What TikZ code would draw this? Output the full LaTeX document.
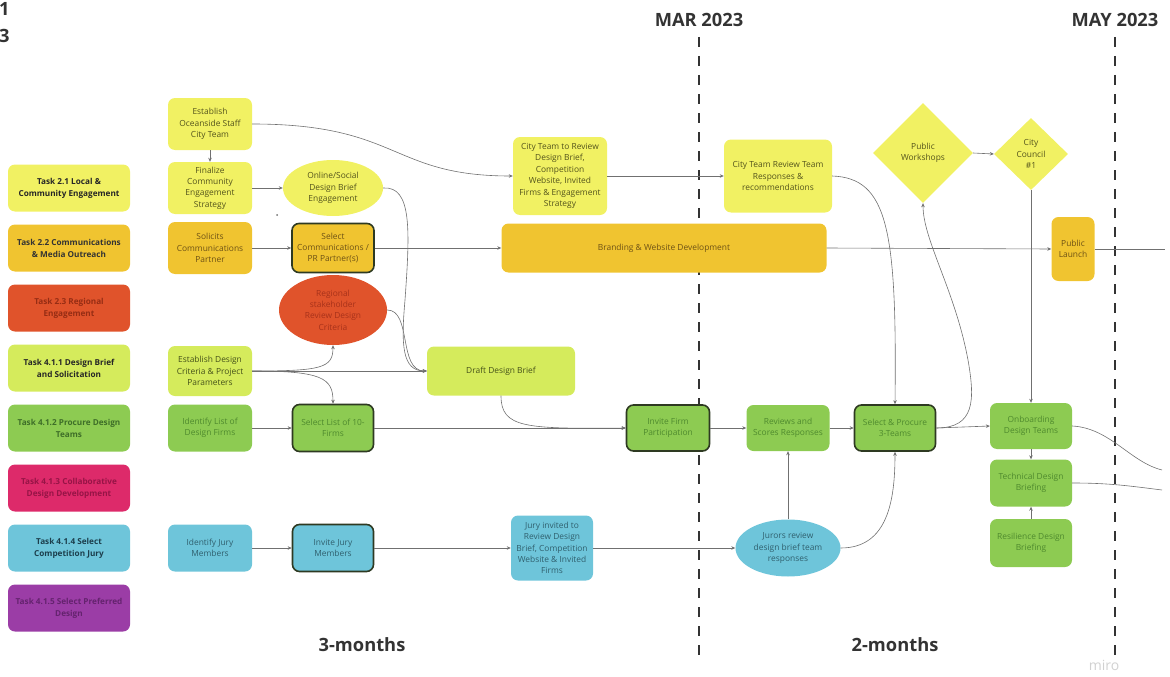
\documentclass[tikz,border=0pt]{standalone}
\usepackage{fontspec}
\setmainfont{Open Sans}
\usetikzlibrary{arrows.meta,shapes.geometric}
\definecolor{cYel}{HTML}{F1F163}
\definecolor{cOra}{HTML}{F0C430}
\definecolor{cRed}{HTML}{E0532B}
\definecolor{cLime}{HTML}{D5EB5C}
\definecolor{cGrn}{HTML}{8DCB52}
\definecolor{cMag}{HTML}{DD2A6A}
\definecolor{cBlu}{HTML}{6EC5DA}
\definecolor{cPur}{HTML}{9B3DA6}
\definecolor{tYel}{HTML}{54541C}
\definecolor{tOra}{HTML}{6E5215}
\definecolor{tRed}{HTML}{A8321A}
\definecolor{tLime}{HTML}{46521A}
\definecolor{tGrn}{HTML}{4F8A2E}
\definecolor{tBlu}{HTML}{30606E}
\definecolor{cLine}{HTML}{707070}
\definecolor{cDark}{HTML}{2E3A22}
\definecolor{cTime}{HTML}{333333}
\begin{document}
\begin{tikzpicture}[x=1pt,y=-1pt,
  box/.style={rounded corners=7pt, align=center, inner sep=1pt,
    font=\fontsize{8.4}{11.4}\selectfont},
  yel/.style={box, fill=cYel, text=tYel},
  ora/.style={box, fill=cOra, text=tOra},
  lime/.style={box, fill=cLime, text=tLime},
  grn/.style={box, fill=cGrn, text=tGrn},
  blu/.style={box, fill=cBlu, text=tBlu},
  selbox/.style={draw=cDark, line width=1.6pt},
  oval/.style={ellipse, align=center, inner sep=0pt, font=\fontsize{8.4}{11.4}\selectfont},
  dia/.style={diamond, align=center, inner sep=0pt, font=\fontsize{8.4}{11.4}\selectfont},
  task/.style={rounded corners=7pt, align=center, inner sep=1pt,
    minimum width=122, minimum height=47, font=\bfseries\fontsize{8.2}{12}\selectfont},
  conn/.style={draw=cLine, line width=0.6pt, -{Stealth[length=4pt,width=3.5pt]}},
  plain/.style={draw=cLine, line width=0.6pt},
  timeline/.style={draw=cTime, line width=2.2pt, dash pattern=on 10pt off 9pt},
  head/.style={font=\bfseries\fontsize{18.3}{20}\selectfont, text=cTime}
]
\useasboundingbox (0,0) rectangle (1170,677);

% timeline
\node[head, anchor=base west, inner sep=0pt] (c1) at (-1,16) {1};
\node[head, anchor=base west, inner sep=0pt] (c3) at (-1,43) {3};
\node[head] (mar) at (699,20) {MAR 2023};
\node[head] (may) at (1115,20) {MAY 2023};
\coordinate (marb) at (699,662);
\coordinate (mayb) at (1115,662);
\draw[timeline] (699,37) -- (marb);
\draw[timeline] (1115,37) -- (mayb);
\node[head] (m3) at (362,645) {3-months};
\node[head] (m2) at (895,645) {2-months};
\node[font=\fontsize{14}{16}\selectfont, text=black!18] (miro) at (1104,665) {miro};

% task labels
\node[task, fill=cYel, text=black!85] (T21) at (69,188) {Task 2.1 Local \&\\Community Engagement};
\node[task, fill=cOra, text=black!80] (T22) at (69,248) {Task 2.2 Communications\\\& Media Outreach};
\node[task, fill=cRed, text={rgb,255:red,150;green,45;blue,20}] (T23) at (69,308) {Task 2.3 Regional\\Engagement};
\node[task, fill=cLime, text=black!85] (T411) at (69,368) {Task 4.1.1 Design Brief\\and Solicitation};
\node[task, fill=cGrn, text={rgb,255:red,62;green,110;blue,40}] (T412) at (69,428) {Task 4.1.2 Procure Design\\Teams};
\node[task, fill=cMag, text={rgb,255:red,150;green,20;blue,70}] (T413) at (69,488) {Task 4.1.3 Collaborative\\Design Development};
\node[task, fill=cBlu, text={rgb,255:red,28;green,62;blue,76}] (T414) at (69,548) {Task 4.1.4 Select\\Competition Jury};
\node[task, fill=cPur, text={rgb,255:red,100;green,35;blue,110}] (T415) at (69,608) {Task 4.1.5 Select Preferred\\Design};

% column 1
\node[yel, minimum width=84, minimum height=52] (EO) at (210,124) {Establish\\Oceanside Staff\\City Team};
\node[yel, minimum width=84, minimum height=52] (FC) at (210,188) {Finalize\\Community\\Engagement\\Strategy};
\node[ora, minimum width=84, minimum height=52] (SO) at (210,248) {Solicits\\Communications\\Partner};
\node[lime, minimum width=84, minimum height=50] (EDC) at (210,371) {Establish Design\\Criteria \& Project\\Parameters};
\node[grn, minimum width=84, minimum height=47] (IL) at (210,428) {Identify List of\\Design Firms};
\node[blu, minimum width=84, minimum height=47] (IJ) at (210,548) {Identify Jury\\Members};
\fill[cLine] (277,215) circle (1);

% column 2
\node[oval, fill=cYel, text=tYel, minimum width=100, minimum height=56] (OS) at (333,188) {Online/Social\\Design Brief\\Engagement};
\node[ora, selbox, minimum width=82, minimum height=49] (SC) at (333,248) {Select\\Communications /\\PR Partner(s)};
\node[oval, fill=cRed, text=tRed, minimum width=108, minimum height=70] (RS) at (333,310) {Regional\\stakeholder\\Review Design\\Criteria};
\node[grn, selbox, minimum width=81, minimum height=47] (SL) at (333,428) {Select List of 10-\\Firms};
\node[blu, selbox, minimum width=81, minimum height=47] (IJM) at (333,548) {Invite Jury\\Members};

% middle
\node[lime, minimum width=148, minimum height=49] (DDB) at (501,371) {Draft Design Brief};
\node[yel, minimum width=94, minimum height=78] (CTR) at (560,176) {City Team to Review\\Design Brief,\\Competition\\Website, Invited\\Firms \& Engagement\\Strategy};
\node[ora, minimum width=325, minimum height=49] (BW) at (664,248) {Branding \& Website Development};
\node[blu, minimum width=82, minimum height=65] (JI) at (552,548) {Jury invited to\\Review Design\\Brief, Competition\\Website \& Invited\\Firms};

% right part
\node[yel, minimum width=108, minimum height=73] (CTRR) at (778,176) {City Team Review Team\\Responses \&\\recommendations};
\node[dia, fill=cYel, text=tYel, minimum width=100, minimum height=100] (PW) at (923,153) {Public\\Workshops};
\node[dia, fill=cYel, text=tYel, minimum width=74, minimum height=72] (CC) at (1031,154) {City\\Council\\\#1};
\node[ora, minimum width=43, minimum height=64] (PL) at (1073,249) {Public\\Launch};
\node[grn, selbox, minimum width=83, minimum height=46] (IFP) at (668,428) {Invite Firm\\Participation};
\node[grn, minimum width=83, minimum height=46] (RSR) at (788,428) {Reviews and\\Scores Responses};
\node[grn, selbox, minimum width=81, minimum height=46] (SP) at (895,428) {Select \& Procure\\3-Teams};
\node[grn, minimum width=82, minimum height=46] (OB) at (1031,426) {Onboarding\\Design Teams};
\node[grn, minimum width=82, minimum height=47] (TD) at (1031,483) {Technical Design\\Briefing};
\node[grn, minimum width=82, minimum height=48] (RD) at (1031,543) {Resilience Design\\Briefing};
\node[oval, fill=cBlu, text=tBlu, minimum width=105, minimum height=57] (JR) at (788,548) {Jurors review\\design brief team\\responses};

\coordinate (e0) at (1165,249);
\coordinate (e1) at (1162,470);
\coordinate (e2) at (1162,490);

% connectors
\draw[conn] (EO.south) -- (FC.north);
\draw[conn] (EO.east) .. controls (400,124) and (390,176) .. (CTR.west);
\draw[conn] (FC.east) -- (OS.west);
\draw[conn] (OS.east) .. controls (412,186) and (410,230) .. (405,300) .. controls (401,345) and (402,371) .. (DDB.west);
\draw[conn] (SO.east) -- (SC.west);
\draw[conn] (SC.east) -- (BW.west);
\draw[conn] (BW.east) -- (PL.west);
\draw[plain] (PL.east) -- (e0);
\draw[conn] (EDC.east) -- (DDB.west);
\draw[conn] (EDC.east) .. controls (322,371) and (333,368) .. (RS.south);
\draw[conn] (EDC.east) .. controls (322,371) and (333,378) .. (SL.north);
\draw[conn] (RS.east) .. controls (412,310) and (398,371) .. (DDB.west);
\draw[conn] (IL.east) -- (SL.west);
\draw[conn] (SL.east) -- (IFP.west);
\draw[conn] (DDB.south) .. controls (501,428) and (525,429) .. (IFP.west);
\draw[conn] (CTR.east) -- (CTRR.west);
\draw[conn] (CTRR.east) .. controls (888,178) and (897,230) .. (SP.north);
\draw[conn] (IFP.east) -- (RSR.west);
\draw[conn] (RSR.east) -- (SP.west);
\draw[conn] (SP.east) -- (OB.west);
\draw[conn] (SP.east) .. controls (975,428) and (975,400) .. (968,360) .. controls (955,290) and (923,240) .. (PW.south);
\draw[conn] (PW.east) -- (CC.west);
\draw[conn] (CC.south) -- (OB.north);
\draw[conn] (OB.south) -- (TD.north);
\draw[conn] (RD.north) -- (TD.south);
\draw[plain] (OB.east) .. controls (1110,428) and (1130,462) .. (e1);
\draw[plain] (TD.east) .. controls (1110,483) and (1130,486) .. (e2);
\draw[conn] (IJ.east) -- (IJM.west);
\draw[conn] (IJM.east) -- (JI.west);
\draw[conn] (JI.east) -- (JR.west);
\draw[conn] (JR.north) -- (RSR.south);
\draw[conn] (JR.east) .. controls (888,548) and (895,500) .. (SP.south);
\end{tikzpicture}
\end{document}
